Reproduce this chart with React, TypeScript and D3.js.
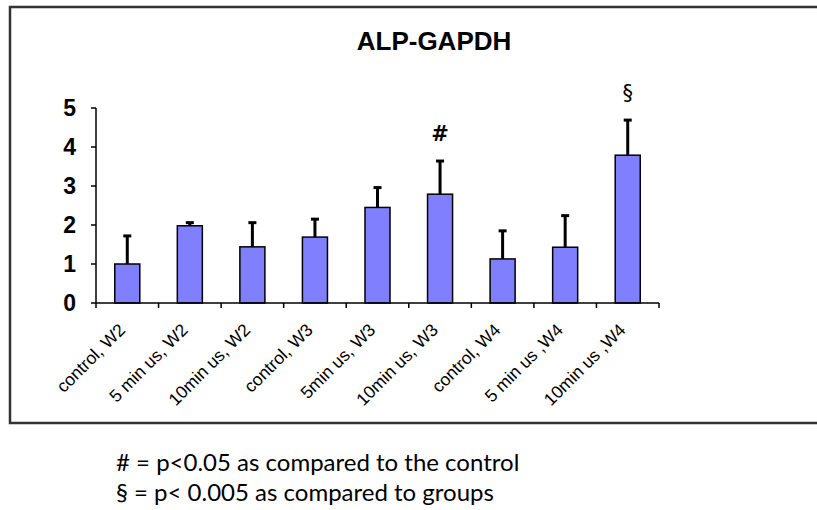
import React from "react";
import * as d3 from "d3";

const categories = [
  "control, W2",
  "5 min us, W2",
  "10min us, W2",
  "control, W3",
  "5min us, W3",
  "10min us, W3",
  "control, W4",
  "5 min us ,W4",
  "10min us ,W4",
];
const means = [1.0, 1.98, 1.44, 1.69, 2.45, 2.79, 1.13, 1.43, 3.79];
const errors = [0.72, 0.08, 0.62, 0.46, 0.51, 0.85, 0.72, 0.81, 0.9];
const markers = ["", "", "", "", "", "#", "", "", "§"];
const yTicks = [0, 1, 2, 3, 4, 5];
const title = "ALP-GAPDH";
const notes = [
  "# = p<0.05 as compared to the control",
  "§ = p< 0.005 as compared to groups",
];

export default function App() {
  const W = 817;
  const H = 510;
  const x0 = 96;
  const x1 = 659;
  const yBase = 303;
  const yTop = 108;

  const x = d3.scaleBand<string>().domain(categories).range([x0, x1]).paddingInner(0).paddingOuter(0);
  const y = d3.scaleLinear().domain([0, 5]).range([yBase, yTop]);
  const bw = x.bandwidth() / 2.5;

  return (
    <svg
      width={W}
      height={H}
      style={{ position: "absolute", left: 0, top: 0, background: "#fff" }}
      fontFamily="Arial, 'Liberation Sans', sans-serif"
    >
      <rect x={10} y={7} width={W + 20} height={416} fill="none" stroke="#333" strokeWidth={2.5} />
      <text x={434} y={50} textAnchor="middle" fontWeight="bold" fontSize={26} fill="#000">
        {title}
      </text>

      {/* y axis */}
      <line x1={x0} x2={x0} y1={y(5)} y2={y(0)} stroke="#000" strokeWidth={1.5} />
      {yTicks.map((t) => (
        <g key={t}>
          <line x1={x0 - 5} x2={x0} y1={y(t)} y2={y(t)} stroke="#000" strokeWidth={1.5} />
          <text x={76} y={y(t)} dy="0.36em" textAnchor="end" fontWeight="bold" fontSize={23} fill="#000">
            {t}
          </text>
        </g>
      ))}

      {/* bars */}
      {categories.map((c, i) => {
        const cx = (x(c) as number) + x.bandwidth() / 2;
        const top = y(means[i]);
        const etop = y(means[i] + errors[i]);
        return (
          <g key={c}>
            <line x1={cx} x2={cx} y1={top} y2={etop} stroke="#000" strokeWidth={3} />
            <line x1={cx - 4} x2={cx + 4} y1={etop} y2={etop} stroke="#000" strokeWidth={3} />
            <rect
              x={cx - bw / 2}
              y={top}
              width={bw}
              height={yBase - top}
              fill="#8080FF"
              stroke="#000"
              strokeWidth={1.5}
            />
            {markers[i] && (
              <text
                x={cx}
                y={etop - 20}
                textAnchor="middle"
                fontSize={21}
                fontWeight={markers[i] === "#" ? "bold" : "normal"}
                fontFamily="'DejaVu Sans', sans-serif"
                fill="#000"
              >
                {markers[i]}
              </text>
            )}
          </g>
        );
      })}

      {/* x axis */}
      <line x1={x0} x2={x1} y1={yBase} y2={yBase} stroke="#000" strokeWidth={1.5} />
      {d3.range(categories.length + 1).map((k) => {
        const xx = x0 + k * x.step();
        return <line key={k} x1={xx} x2={xx} y1={yBase} y2={yBase + 5} stroke="#000" strokeWidth={1.5} />;
      })}
      {categories.map((c) => {
        const cx = (x(c) as number) + x.bandwidth() / 2 - 1;
        return (
          <text
            key={c}
            transform={`translate(${cx},${yBase + 28}) rotate(-45)`}
            textAnchor="end"
            fontSize={17.5}
            fill="#000"
          >
            {c}
          </text>
        );
      })}

      {notes.map((n, i) => (
        <text key={i} x={116} y={471 + i * 30} fontSize={24} fontFamily="Lato, 'Open Sans', sans-serif" fill="#000">
          {n}
        </text>
      ))}
    </svg>
  );
}
